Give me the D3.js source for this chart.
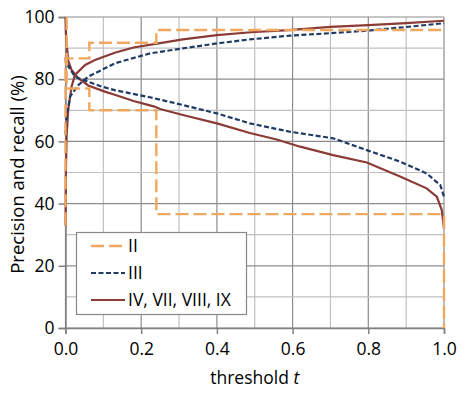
<!DOCTYPE html>
<html><head><meta charset="utf-8">
<script src="https://cdn.jsdelivr.net/npm/d3@7"></script>
<style>body{margin:0;background:#fff}svg{display:block}text{font-family:"Open Sans",sans-serif;fill:#000}</style>
</head><body>
<svg id="c" width="469" height="393"></svg>
<script>
// ---- data ----
const seriesNames = ["II", "III", "IV, VII, VIII, IX"];
const xTicks = [0, 0.2, 0.4, 0.6, 0.8, 1.0];
const yTicks = [0, 20, 40, 60, 80, 100];

// II (step curves)
const t2P = [0, 0, 0.063, 0.063, 0.24, 0.24, 1.0];
const p2  = [33, 86.7, 86.7, 91.7, 91.7, 95.8, 95.8];
const t2R = [0.003, 0.003, 0.063, 0.063, 0.24, 0.24, 1.0, 1.0];
const r2  = [100, 77, 77, 70, 70, 36.6, 36.6, 0];

// III
const t3P = [0, 0.003, 0.012, 0.034, 0.06, 0.096, 0.13, 0.223, 0.31, 0.40, 0.487, 0.593, 0.70, 0.796, 0.884, 1.0];
const p3  = [62, 68, 74.4, 78.1, 80.8, 83, 85.1, 88.3, 89.9, 91.5, 92.8, 94.0, 94.8, 95.6, 96.6, 98];
const t3R = [0, 0.003, 0.025, 0.06, 0.096, 0.13, 0.223, 0.31, 0.40, 0.487, 0.593, 0.62, 0.707, 0.796, 0.884, 0.954, 0.99, 1.0];
const r3  = [87, 85, 80.8, 79.2, 77.6, 76.5, 74.2, 71.7, 69, 65.8, 63.1, 62.6, 61, 57.2, 53.5, 49.7, 46, 42.2];

// IV, VII, VIII, IX
const t4P = [0, 0.001, 0.003, 0.007, 0.016, 0.025, 0.052, 0.078, 0.13, 0.18, 0.25, 0.31, 0.40, 0.49, 0.59, 0.70, 0.80, 0.90, 1.0];
const p4  = [33, 50, 62, 70, 77.6, 81.4, 84.6, 86.2, 88.5, 90.2, 91.6, 92.8, 94.2, 95.1, 95.8, 96.8, 97.4, 98.0, 98.8];
const t4R = [0, 0.001, 0.003, 0.007, 0.016, 0.033, 0.06, 0.104, 0.13, 0.18, 0.223, 0.235, 0.25, 0.31, 0.40, 0.487, 0.558, 0.62, 0.707, 0.796, 0.884, 0.954, 0.981, 0.994, 1.0];
const r4  = [100, 95, 91.5, 86, 83, 80.4, 78, 76, 75, 73, 71.6, 71.2, 70.4, 68.5, 65.8, 62.7, 60.6, 58.3, 55.6, 53.2, 48.7, 44.9, 42.2, 38, 32];

// ---- chart ----
const svg = d3.select("#c");
const L = 65.5, R = 444, T = 17, B = 328;
const x = d3.scaleLinear().domain([0, 1]).range([L, R]);
const y = d3.scaleLinear().domain([0, 100]).range([B, T]);

// grid
const g = svg.append("g");
d3.range(0, 1.0001, 0.1).forEach((v, i) => {
  g.append("line").attr("x1", x(v)).attr("x2", x(v)).attr("y1", T).attr("y2", B)
    .attr("stroke", i % 2 === 0 ? "#8c8c8c" : "#c0c0c0").attr("stroke-width", 1.2);
});
d3.range(0, 100.001, 10).forEach((v, i) => {
  g.append("line").attr("x1", L).attr("x2", R).attr("y1", y(v)).attr("y2", y(v))
    .attr("stroke", i % 2 === 0 ? "#8c8c8c" : "#c0c0c0").attr("stroke-width", 1.2);
});

// axes
const xa = svg.append("g").attr("transform", `translate(0,${B})`)
  .call(d3.axisBottom(x).tickValues(xTicks).tickFormat(d3.format(".1f")).tickSize(6).tickPadding(9));
const ya = svg.append("g").attr("transform", `translate(${L},0)`)
  .call(d3.axisLeft(y).tickValues(yTicks).tickSize(7).tickPadding(4));
[xa, ya].forEach(a => {
  a.select(".domain").attr("stroke", "#808080").attr("stroke-width", 1.5);
  a.selectAll(".tick line").attr("stroke", "#808080").attr("stroke-width", 1.5);
  a.selectAll("text").style("font-size", "17.5px").style("font-family", "'Open Sans',sans-serif").attr("fill", "#000");
});

svg.append("text").attr("x", x(0.5)).attr("y", 384).attr("text-anchor", "middle")
  .style("font-size", "17.5px")
  .html('threshold <tspan font-style="italic">t</tspan>');
svg.append("text").attr("transform", `translate(24,${(T + B) / 2 + 2}) rotate(-90)`)
  .attr("text-anchor", "middle").style("font-size", "18.5px")
  .text("Precision and recall (%)");

// curves
const line = d3.line().x(d => x(d[0])).y(d => y(d[1]));
const zip = (a, b) => a.map((v, i) => [v, b[i]]);
const styles = [
  {c: "#F0A860", dash: "13,5", w: 2.4},
  {c: "#1F3A64", dash: "5,2.5", w: 2.2},
  {c: "#8B3A36", dash: null, w: 2.2}
];
const curves = [
  [2, zip(t4P, p4)], [2, zip(t4R, r4)],
  [1, zip(t3P, p3)], [1, zip(t3R, r3)],
  [0, zip(t2P, p2)], [0, zip(t2R, r2)]
];
curves.forEach(([s, d]) => {
  svg.append("path").datum(d).attr("d", line).attr("fill", "none")
    .attr("stroke", styles[s].c).attr("stroke-width", styles[s].w)
    .attr("stroke-dasharray", styles[s].dash);
});

// legend
const lg = svg.append("g");
lg.append("rect").attr("x", 76.5).attr("y", 232.5).attr("width", 170).attr("height", 82)
  .attr("fill", "#fff").attr("stroke", "#888").attr("stroke-width", 1.2);
const ly = [246, 273, 300];
seriesNames.forEach((n, i) => {
  lg.append("line").attr("x1", 91).attr("x2", 125).attr("y1", ly[i]).attr("y2", ly[i])
    .attr("stroke", styles[i].c).attr("stroke-width", styles[i].w).attr("stroke-dasharray", styles[i].dash);
  lg.append("text").attr("x", 128).attr("y", ly[i]).attr("dy", "0.35em")
    .style("font-size", "17.5px").text(n);
});
</script>
</body></html>
